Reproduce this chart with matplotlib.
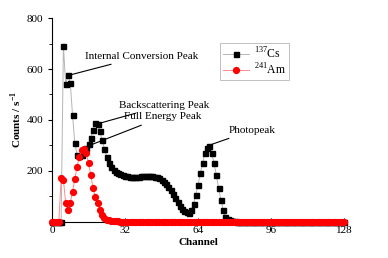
import numpy as np
import matplotlib
matplotlib.use("Agg")
import matplotlib.pyplot as plt
from matplotlib.ticker import MultipleLocator

plt.rcParams['font.family'] = ['Liberation Serif', 'DejaVu Serif']
plt.rcParams['mathtext.fontset'] = 'custom'
plt.rcParams['mathtext.rm'] = 'Liberation Serif'
plt.rcParams['mathtext.bf'] = 'Liberation Serif:bold'

# 137Cs counts per channel
cs_counts = [0, 0, 0, 0, 0, 690, 540, 575, 545, 420,
             309, 263, 258, 263, 275, 290, 305, 330, 360, 388,
             383, 355, 320, 285, 255, 232, 215, 204, 196, 190,
             186, 183, 181, 179, 178, 177, 177, 177, 178, 179,
             180, 181, 181, 181, 180, 178, 176, 172, 165, 157,
             148, 138, 125, 110, 93, 78, 64, 52, 42, 37,
             36, 47, 70, 106, 145, 191, 230, 272, 290, 298,
             270, 230, 184, 132, 86, 47, 18, 10, 6, 4,
             2, 1, 1]
cs_counts = cs_counts + [0] * (129 - len(cs_counts))

# 241Am counts per channel
am_counts = [0, 0, 0, 0, 171, 165, 74, 47, 74, 119,
             167, 217, 256, 282, 285, 269, 230, 184, 132, 99,
             73, 47, 27, 15, 9, 6, 4, 3, 2, 2,
             1, 1, 1]
am_counts = am_counts + [0] * (129 - len(am_counts))

channels = np.arange(129)

fig = plt.figure(figsize=(3.88, 2.58), dpi=100)
ax = fig.add_axes([0.134, 0.140, 0.753, 0.790])

ax.plot(channels, cs_counts, color="#b5b5b5", lw=0.7, marker="s", ms=3.6,
        mfc="black", mec="black", label="$^{137}$Cs", clip_on=False, zorder=3)
ax.plot(channels, am_counts, color="#ff8a8a", lw=0.7, marker="o", ms=4.2,
        mfc="red", mec="red", label="$^{241}$Am", clip_on=False, zorder=4)

ax.set_xlim(0, 128)
ax.set_ylim(0, 800)
ax.set_xticks([0, 32, 64, 96, 128])
ax.set_yticks([200, 400, 600, 800])
ax.yaxis.set_minor_locator(MultipleLocator(100))
ax.tick_params(axis="x", direction="in", length=3, labelsize=8, pad=3)
ax.tick_params(axis="y", direction="out", length=3, labelsize=8)
ax.tick_params(axis="y", which="minor", direction="out", length=2)
ax.spines["top"].set_visible(False)
ax.spines["right"].set_visible(False)
for s in ("left", "bottom"):
    ax.spines[s].set_linewidth(0.8)

ax.set_xlabel("Channel", fontsize=8, fontweight="bold", labelpad=2)
ax.set_ylabel("Counts / s$^{\\mathbf{-1}}$", fontsize=8, fontweight="bold", labelpad=2)

arrow = dict(arrowstyle="-", color="black", lw=0.8)
ax.annotate("Internal Conversion Peak", xy=(7.2, 575), xytext=(14.5, 650),
            fontsize=8, va="center", arrowprops=arrow)
ax.annotate("Backscattering Peak", xy=(18.0, 380), xytext=(29.5, 458),
            fontsize=8, va="center", arrowprops=arrow)
ax.annotate("Full Energy Peak", xy=(15.0, 295), xytext=(31.5, 412),
            fontsize=8, va="center", arrowprops=arrow)
ax.annotate("Photopeak", xy=(68, 298), xytext=(77.5, 360),
            fontsize=8, va="center", arrowprops=arrow)

leg = ax.legend(loc="upper left", bbox_to_anchor=(0.555, 0.905), fontsize=8.5,
                frameon=True, fancybox=False, handlelength=2.2,
                borderpad=0.25, labelspacing=0.05, handletextpad=0.4)
leg.get_frame().set_edgecolor("#b0b0b0")
leg.get_frame().set_linewidth(0.7)

fig.savefig("out.png", dpi=100)
